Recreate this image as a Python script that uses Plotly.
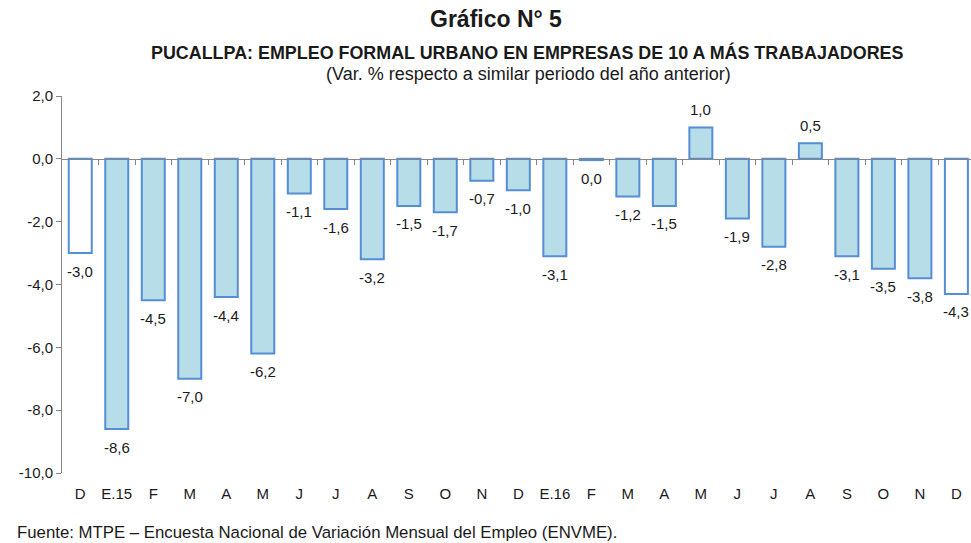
import plotly.graph_objects as go

# ---- data ----
months = ["D", "E.15", "F", "M", "A", "M", "J", "J", "A", "S", "O", "N",
          "D", "E.16", "F", "M", "A", "M", "J", "J", "A", "S", "O", "N", "D"]
values = [-3.0, -8.6, -4.5, -7.0, -4.4, -6.2, -1.1, -1.6, -3.2, -1.5, -1.7, -0.7,
          -1.0, -3.1, -0.04, -1.2, -1.5, 1.0, -1.9, -2.8, 0.5, -3.1, -3.5, -3.8, -4.3]
y_ticks = [2.0, 0.0, -2.0, -4.0, -6.0, -8.0, -10.0]

title = "Gráfico N° 5"
subtitle = "PUCALLPA: EMPLEO FORMAL URBANO EN EMPRESAS DE 10 A MÁS TRABAJADORES"
subtitle2 = "(Var. % respecto a similar periodo del año anterior)"
source = "Fuente: MTPE – Encuesta Nacional de Variación Mensual del Empleo (ENVME)."

# ---- styling ----
FONT = "Liberation Sans, Arial, sans-serif"
FILL = "#B7DEE8"
EDGE = "#558ED5"
AXIS = "#868686"
TXT = "#1a1a1a"

def fmt(v):
    return f"{round(v, 1) + 0.0:.1f}".replace(".", ",")

n = len(months)
xpos = list(range(n))
fills = ["white" if i in (0, n - 1) else FILL for i in range(n)]
labels = [fmt(v) for v in values]

x_range = [-0.5, n - 1 + 0.4]
ymin, ymax = min(y_ticks), max(y_ticks)

W, H = 971, 543
L, R, T, B = 62, 0, 96, 70
pw, ph = W - L - R, H - T - B

def px(xp, yp):
    """page pixel -> paper coordinates"""
    return (xp - L) / pw, (H - B - yp) / ph

fig = go.Figure()
fig.add_trace(go.Bar(
    x=xpos, y=values,
    marker=dict(color=fills, line=dict(color=EDGE, width=2)),
    width=0.63,
    hoverinfo="skip",
))
# dummy trace to host the zero-line axis
fig.add_trace(go.Scatter(x=[], y=[], xaxis="x2", yaxis="y", showlegend=False))

annotations = []
for xv, v, lab in zip(xpos, values, labels):
    annotations.append(dict(
        x=xv, y=v, xref="x", yref="y", text=lab, showarrow=False,
        yanchor="middle", yshift=18 if v > 0 else -18,
        font=dict(family=FONT, size=15, color=TXT),
    ))

for text, xp, yp, size, anchor in [
    (f"<b>{title}</b>", 496, 19, 23, "center"),
    (f"<b>{subtitle}</b>", 527, 52, 17.9, "center"),
    (subtitle2, 528, 74, 18, "center"),
    (source, 15, 532, 16.8, "left"),
]:
    xx, yy = px(xp, yp)
    annotations.append(dict(
        text=text, x=xx, y=yy, xref="paper", yref="paper", showarrow=False,
        xanchor=anchor, yanchor="middle",
        font=dict(family=FONT, size=size, color=TXT),
    ))

fig.update_layout(
    width=W, height=H,
    paper_bgcolor="white", plot_bgcolor="white",
    margin=dict(l=L, r=R, t=T, b=B),
    showlegend=False,
    hovermode=False,
    font=dict(family=FONT, size=15, color=TXT),
    xaxis=dict(
        range=x_range, tickmode="array", tickvals=xpos, ticktext=months,
        showline=False, showgrid=False, zeroline=False, ticks="",
        tickfont=dict(family=FONT, size=15, color=TXT),
        ticklabelstandoff=10,
    ),
    xaxis2=dict(
        overlaying="x", anchor="free",
        position=(0 - ymin) / (ymax - ymin),
        range=x_range, tickmode="array",
        tickvals=[i + 0.5 for i in range(n - 1)],
        showticklabels=False, ticks="outside", ticklen=5, tickcolor=AXIS,
        showline=True, linecolor=AXIS, linewidth=1,
        showgrid=False, zeroline=False,
    ),
    yaxis=dict(
        range=[ymin, ymax], tickmode="array", tickvals=y_ticks,
        ticktext=[fmt(v) for v in y_ticks],
        showline=True, linecolor=AXIS, linewidth=1,
        ticks="outside", ticklen=5, tickcolor=AXIS,
        showgrid=False, zeroline=False,
        tickfont=dict(family=FONT, size=15, color=TXT),
    ),
    annotations=annotations,
)

fig.write_html(
    "out.html",
    config={"displayModeBar": False, "staticPlot": True},
    post_script="document.body.style.margin='0';document.body.style.overflow='hidden';",
)
